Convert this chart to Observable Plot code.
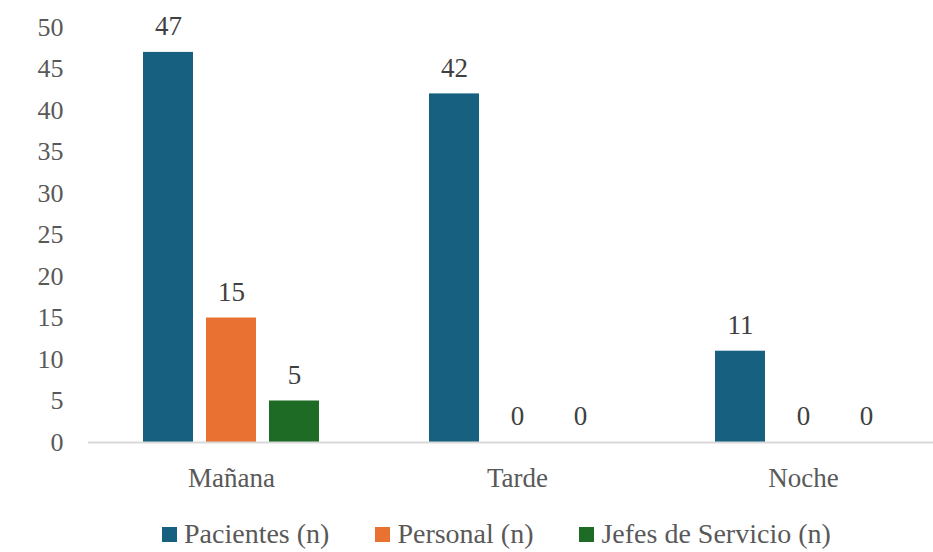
<!DOCTYPE html>
<html><head><meta charset="utf-8">
<script src="https://cdn.jsdelivr.net/npm/d3@7"></script>
<script src="https://cdn.jsdelivr.net/npm/@observablehq/plot@0.6"></script>
<style>
body{margin:0;background:#fff;overflow:hidden;font-family:"Times New Roman",Times,"Liberation Serif","DejaVu Serif","Noto Serif",Tinos,serif}
#wrap{width:933px;overflow:hidden}
#chart svg{display:block;max-width:none}
.legend{display:flex;align-items:center;padding-left:162px;margin-top:8px;height:52px;font-size:28px;color:#595959;white-space:nowrap}
.item{display:flex;align-items:center;margin-right:46px}
.sw{width:15px;height:15px;margin-right:7px}
</style></head><body>
<div id="wrap"><div id="chart"></div><div class="legend" id="legend"></div></div>
<script>
const turnos = ["Mañana", "Tarde", "Noche"];
const series = ["Pacientes (n)", "Personal (n)", "Jefes de Servicio (n)"];
const pacientes = [47, 42, 11];
const personal = [15, 0, 0];
const jefes = [5, 0, 0];
const colores = ["#176080", "#E97132", "#1D6B24"];
const yTicks = [0, 5, 10, 15, 20, 25, 30, 35, 40, 45, 50];

const valores = [pacientes, personal, jefes];
const data = turnos.flatMap((t, i) => series.map((s, j) => ({turno: t, serie: s, n: valores[j][i]})));

const chart = Plot.plot({
  width: 947, height: 500,
  marginLeft: 87, marginRight: 0, marginTop: 27, marginBottom: 58,
  style: {fontFamily: "'Times New Roman', Times, 'Liberation Serif', 'DejaVu Serif', 'Noto Serif', Tinos, serif", background: "white", maxWidth: "none"},
  fx: {domain: turnos, padding: 0, label: null},
  x: {domain: series, axis: null, paddingInner: 0.2126, paddingOuter: 0.862},
  y: {domain: [0, 50]},
  color: {domain: series, range: colores},
  marks: [
    Plot.axisY({ticks: yTicks, tickSize: 0, tickPadding: 25, fontSize: 26, color: "#595959", label: null}),
    Plot.axisFx({anchor: "bottom", tickSize: 0, tickPadding: 25, fontSize: 27, color: "#595959", label: null}),
    Plot.barY(data, {fx: "turno", x: "serie", y: "n", fill: "serie"}),
    Plot.ruleY([0], {stroke: "#D9D9D9", strokeWidth: 2}),
    Plot.text(data, {fx: "turno", x: "serie", y: "n", text: d => String(d.n), dy: -26, fontSize: 27, fill: "#404040"})
  ]
});
document.getElementById("chart").appendChild(chart);

const legend = document.getElementById("legend");
series.forEach((s, i) => {
  const item = document.createElement("div");
  item.className = "item";
  const sw = document.createElement("span");
  sw.className = "sw";
  sw.style.background = colores[i];
  const lab = document.createElement("span");
  lab.textContent = s;
  item.appendChild(sw);
  item.appendChild(lab);
  legend.appendChild(item);
});
</script>
</body></html>
